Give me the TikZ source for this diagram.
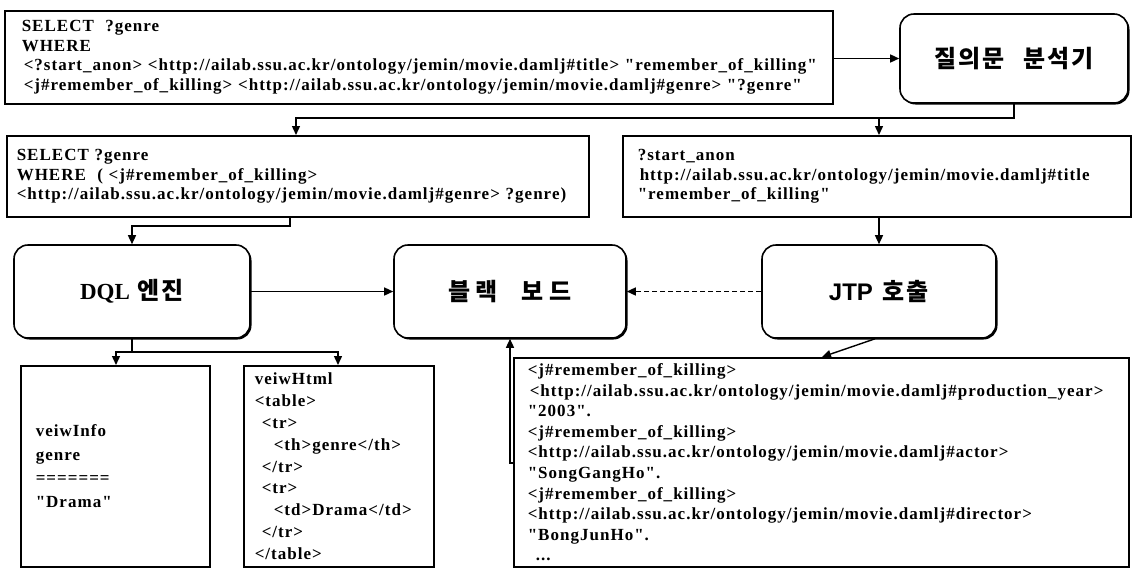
\documentclass[tikz,border=0pt]{standalone}
\usepackage{fontspec}
\setmainfont{Liberation Serif}
\newfontfamily\kr[LetterSpace=8]{Noto Sans CJK KR}
\newfontfamily\code[LetterSpace=6]{Liberation Serif}
\newfontfamily\lsans{Liberation Sans}
\newfontfamily\lserif{Liberation Serif}
\usetikzlibrary{arrows.meta,shadows}
\begin{document}
\begin{tikzpicture}[x=1pt,y=-1pt,
  txt/.style={draw, line width=1.5pt, rectangle, align=left, anchor=north west, inner ysep=0pt,
    font=\code\bfseries\fontsize{17}{19.5}\selectfont},
  rbox/.style={draw, line width=1.6pt, rounded corners=14pt, fill=white,
    font=\kr\bfseries\fontsize{24}{26}\selectfont,
    drop shadow={shadow xshift=1.5pt, shadow yshift=-1.5pt, opacity=1, fill=black}},
  arr/.style={line width=1.4pt, -{Triangle[length=9pt,width=8pt]}},
  ln/.style={line width=1.4pt}]
\useasboundingbox (0,0) rectangle (1133,571);
\fill[white] (0,0) rectangle (1133,571);

% text boxes
\node[txt, inner xsep=17pt, text width=794pt, minimum height=93pt] (top) at (4,10) {%
SELECT\ \ ?genre\\
WHERE\\
\mbox{\kern2pt<?start\_anon> <http://ailab.ssu.ac.kr/ontology/jemin/movie.damlj\#title> "remember\_of\_killing"}\\
\mbox{\kern2pt<j\#remember\_of\_killing> <http://ailab.ssu.ac.kr/ontology/jemin/movie.damlj\#genre> "?genre"}};

\node[txt, inner xsep=10pt, text width=562pt, minimum height=81pt] (box2) at (6,135) {%
SELECT ?genre\\
\mbox{WHERE\ \ ( <j\#remember\_of\_killing>}\\
\mbox{<http://ailab.ssu.ac.kr/ontology/jemin/movie.damlj\#genre> ?genre)}};

\node[txt, inner xsep=15pt, text width=478pt, minimum height=81pt] (box3) at (622,135) {%
?start\_anon\\
\mbox{\kern2pt http://ailab.ssu.ac.kr/ontology/jemin/movie.damlj\#title}\\
"remember\_of\_killing"};

\node[txt, inner xsep=15pt, text width=159pt, minimum height=201pt,
  font=\code\bfseries\fontsize{17}{23.5}\selectfont] (info) at (20,365) {%
veiwInfo\\
genre\\
=======\\
"Drama"};

\node[txt, inner xsep=11pt, text width=168pt, minimum height=201pt,
  font=\code\bfseries\fontsize{17}{21.8}\selectfont] (html) at (243,365) {%
veiwHtml\\
<table>\\
\mbox{\kern7pt<tr>}\\
\mbox{\kern19pt<th>genre</th>}\\
\mbox{\kern7pt</tr>}\\
\mbox{\kern7pt<tr>}\\
\mbox{\kern19pt<td>Drama</td>}\\
\mbox{\kern7pt</tr>}\\
</table>};

\node[txt, inner xsep=14pt, text width=587pt, minimum height=209pt,
  font=\code\bfseries\fontsize{17}{20.6}\selectfont] (big) at (513,357) {%
<j\#remember\_of\_killing>\\
\mbox{\kern2pt<http://ailab.ssu.ac.kr/ontology/jemin/movie.damlj\#production\_year>}\\
"2003".\\
<j\#remember\_of\_killing>\\
\mbox{<http://ailab.ssu.ac.kr/ontology/jemin/movie.damlj\#actor>}\\
"SongGangHo".\\
<j\#remember\_of\_killing>\\
\mbox{<http://ailab.ssu.ac.kr/ontology/jemin/movie.damlj\#director>}\\
"BongJunHo".\\
\mbox{\kern8pt...}};

% rounded process boxes
\node[rbox, minimum width=228pt, minimum height=89pt] (q) at (1014,58.5) {질의문\hspace{18pt}분석기};
\node[rbox, minimum width=236pt, minimum height=93pt] (dql) at (132,291.5) {{\lserif\bfseries\fontsize{23}{26}\selectfont DQL}\hspace{8pt}엔진};
\node[rbox, minimum width=232pt, minimum height=93pt] (bb) at (510,291.5) {블\hspace{5pt}랙\hspace{24pt}보\hspace{5pt}드};
\node[rbox, minimum width=234pt, minimum height=93pt] (jtp) at (879,291.5) {{\lsans\bfseries JTP}\hspace{10pt}호출};

% connectors
\draw[arr] (q.west -| top.east) -- (q.west);

\coordinate (s1) at (1014,118);
\coordinate (s2) at (296,118);
\draw[arr] (q.south) -- (s1) -- (s2) -- (s2 |- box2.north);
\draw[arr] (s1 -| jtp.north) -- (jtp.north |- box3.north);

\draw[arr] (box3.south -| jtp.north) -- (jtp.north);

\coordinate (s3) at (290,226);
\draw[arr] (s3 |- box2.south) -- (s3) -| (dql.north);

\draw[arr] (dql.east) -- (bb.west);
\draw[arr, dash pattern=on 5pt off 3pt] (jtp.west) -- (bb.east);

\coordinate (s4) at (132,352);
\coordinate (s5) at (116,352);
\coordinate (s6) at (338,352);
\draw[ln] (dql.south) -- (s4);
\draw[arr] (s4) -- (s5) -- (s5 |- info.north);
\draw[arr] (s4) -- (s6) -- (s6 |- html.north);

\coordinate (d1) at (822,357);
\draw[arr] ([xshift=-4pt]jtp.south) -- (d1);

\coordinate (c1) at (510,463);
\draw[arr] (big.west |- c1) -- (c1) -- (bb.south);
\end{tikzpicture}
\end{document}
